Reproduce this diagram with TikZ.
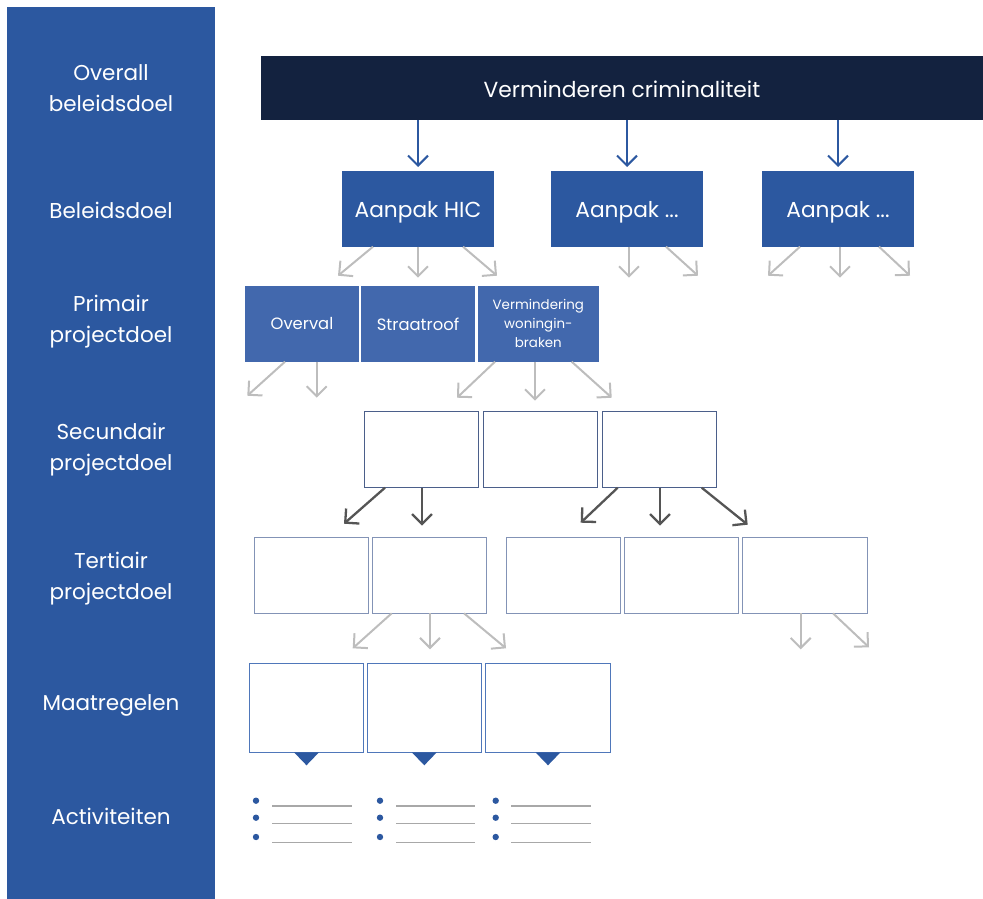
\documentclass[tikz,border=0pt]{standalone}
\usepackage{fontspec}
\setmainfont{Poppins}
\usetikzlibrary{arrows.meta,calc}
\definecolor{sideblue}{HTML}{2C58A0}
\definecolor{navy}{HTML}{13223F}
\definecolor{primblue}{HTML}{4268AD}
\definecolor{lgray}{HTML}{BDBDBD}
\definecolor{dgray}{HTML}{555555}
\definecolor{secline}{HTML}{4B5F8A}
\definecolor{terline}{HTML}{8393B6}
\definecolor{maatline}{HTML}{4F77BA}
\definecolor{bulgray}{HTML}{A8A8A8}
\tikzset{
  barb/.style={-{Straight Barb[length=10pt,width=20pt]}, line width=2pt},
  bluearrow/.style={barb, draw=sideblue, shorten >=4pt},
  grayarrow/.style={barb, draw=lgray},
  darkarrow/.style={barb, draw=dgray, line width=2.3pt},
  sidelabel/.style={text=white, align=center, font=\fontsize{21.5}{31}\selectfont},
  boxbase/.style={rectangle, inner sep=0pt, outer sep=0pt, anchor=north west},
  topbar/.style={boxbase, fill=navy, text=white, font=\fontsize{21.8}{24}\selectfont},
  goalbox/.style={boxbase, fill=sideblue, text=white, font=\fontsize{21.7}{26}\selectfont, minimum width=152pt, minimum height=75.7pt},
  goaltext/.style={text=white, font=\fontsize{21.7}{26}\selectfont},
  primbox/.style={boxbase, fill=primblue, text=white, align=center, minimum height=75.7pt},
  secbox/.style={boxbase, draw=secline, line width=1.4pt, fill=white, minimum width=114pt, minimum height=76pt},
  terbox/.style={boxbase, draw=terline, line width=1.4pt, fill=white, minimum height=76pt},
  maatbox/.style={boxbase, draw=maatline, line width=1.4pt, fill=white, minimum height=88.6pt},
  bulletdot/.style={fill=sideblue},
  bulletline/.style={draw=bulgray, line width=1.2pt},
}
\begin{document}
\begin{tikzpicture}[x=1pt,y=-1pt]
\useasboundingbox (0,0) rectangle (983,899);
% sidebar
\fill[sideblue] (7,7) rectangle (215,899);
\node[sidelabel] (l1) at (111,88) {Overall\\beleidsdoel};
\node[sidelabel] (l2) at (111,210) {Beleidsdoel};
\node[sidelabel] (l3) at (111,322) {Primair\\projectdoel};
\node[sidelabel] (l4) at (111,450) {Secundair\\projectdoel};
\node[sidelabel] (l5) at (111,579) {Tertiair\\projectdoel};
\node[sidelabel] (l6) at (111,705) {Maatregelen};
\node[sidelabel] (l7) at (111,816) {Activiteiten};

% top bar
\node[topbar, minimum width=722pt, minimum height=64pt] (top) at (261,56) {};
\node[text=white, font=\fontsize{21.8}{24}\selectfont] (toptext) at ([yshift=-1pt]top.center) {Verminderen criminaliteit};

% beleidsdoel boxes
\node[goalbox] (b1) at (342,171) {};
\node[goalbox] (b2) at (551,171) {};
\node[goalbox] (b3) at (762,171) {};
\node[goaltext] (b1t) at ([yshift=-3pt]b1.center) {Aanpak HIC};
\node[goaltext] (b2t) at ([yshift=-3pt]b2.center) {Aanpak ...};
\node[goaltext] (b3t) at ([yshift=-3pt]b3.center) {Aanpak ...};

\draw[bluearrow] (top.south -| b1.north) -- (b1.north);
\draw[bluearrow] (top.south -| b2.north) -- (b2.north);
\draw[bluearrow] (top.south -| b3.north) -- (b3.north);

\draw[grayarrow] ([xshift=31pt]b1.south west) -- ++(-35,29);
\draw[grayarrow] (b1.south) -- ++(0,31);
\draw[grayarrow] ([xshift=121pt]b1.south west) -- ++(34,29);
\draw[grayarrow] ([xshift=78pt]b2.south west) -- ++(0,31);
\draw[grayarrow] ([xshift=115pt]b2.south west) -- ++(32,29);
\draw[grayarrow] ([xshift=38pt]b3.south west) -- ++(-32,29);
\draw[grayarrow] ([xshift=78pt]b3.south west) -- ++(0,31);
\draw[grayarrow] ([xshift=117pt]b3.south west) -- ++(31,29);

% primair
\node[primbox, minimum width=114pt, font=\fontsize{16.4}{19}\selectfont] (p1) at (245,286) {Overval};
\node[primbox, minimum width=114pt, font=\fontsize{16.4}{19}\selectfont] (p2) at (361,286) {Straatroof};
\node[primbox, minimum width=120.7pt, font=\fontsize{13.4}{19}\selectfont] (p3) at (478,286) {Vermindering\\woningin-\\braken};

\draw[grayarrow] ([xshift=40pt]p1.south west) -- ++(-37.7,34);
\draw[grayarrow] ([xshift=71.7pt]p1.south west) -- ++(0,36);
\draw[grayarrow] ([xshift=17pt]p3.south west) -- ++(-38,36);
\draw[grayarrow] ([xshift=57pt]p3.south west) -- ++(0,39);
\draw[grayarrow] ([xshift=93.7pt]p3.south west) -- ++(40,36);

% secundair
\node[secbox] (s1) at (364.3,411.7) {};
\node[secbox] (s2) at (483.7,411.7) {};
\node[secbox] (s3) at (602.3,411.7) {};

\draw[darkarrow] ([xshift=20.7pt]s1.south west) -- ++(-41,36);
\draw[darkarrow] ([xshift=57.7pt]s1.south west) -- ++(0,38);
\draw[darkarrow] ([xshift=15.4pt]s3.south west) -- ++(-37,35);
\draw[darkarrow] ([xshift=57.7pt]s3.south west) -- ++(0,38);
\draw[darkarrow] ([xshift=99.4pt]s3.south west) -- ++(46,37);

% tertiair
\node[terbox, minimum width=114pt] (t1) at (254.7,537.3) {};
\node[terbox, minimum width=113.6pt] (t2) at (372.7,537.3) {};
\node[terbox, minimum width=113.6pt] (t3) at (506.7,537.3) {};
\node[terbox, minimum width=114pt] (t4) at (624.3,537.3) {};
\node[terbox, minimum width=125.4pt] (t5) at (742.3,537.3) {};

\draw[grayarrow] ([xshift=19pt]t2.south west) -- ++(-39,35);
\draw[grayarrow] ([xshift=57.3pt]t2.south west) -- ++(0,36);
\draw[grayarrow] ([xshift=91.3pt]t2.south west) -- ++(42,35);
\draw[grayarrow] ([xshift=58.4pt]t5.south west) -- ++(0,36);
\draw[grayarrow] ([xshift=90.7pt]t5.south west) -- ++(36,34);

% maatregelen
\node[maatbox, minimum width=113.6pt] (m1) at (249.7,663.7) {};
\node[maatbox, minimum width=114pt] (m2) at (367.3,663.7) {};
\node[maatbox, minimum width=125.4pt] (m3) at (485.3,663.7) {};

\foreach \m in {m1,m2,m3}{
  \fill[sideblue] ([xshift=-12.5pt]\m.south) -- ([xshift=12.5pt]\m.south) -- ($(\m.south)+(0,13)$) -- cycle;
}

% activiteiten
\foreach \bx/\lx/\rx in {256/272/352, 380/396/475, 495.7/511/591}{
  \foreach \by/\ly in {800.7/806, 817.7/823.7, 837/842.7}{
    \fill[bulletdot] (\bx,\by) circle (3.2pt);
    \draw[bulletline] (\lx,\ly) -- (\rx,\ly);
  }
}
\end{tikzpicture}
\end{document}
